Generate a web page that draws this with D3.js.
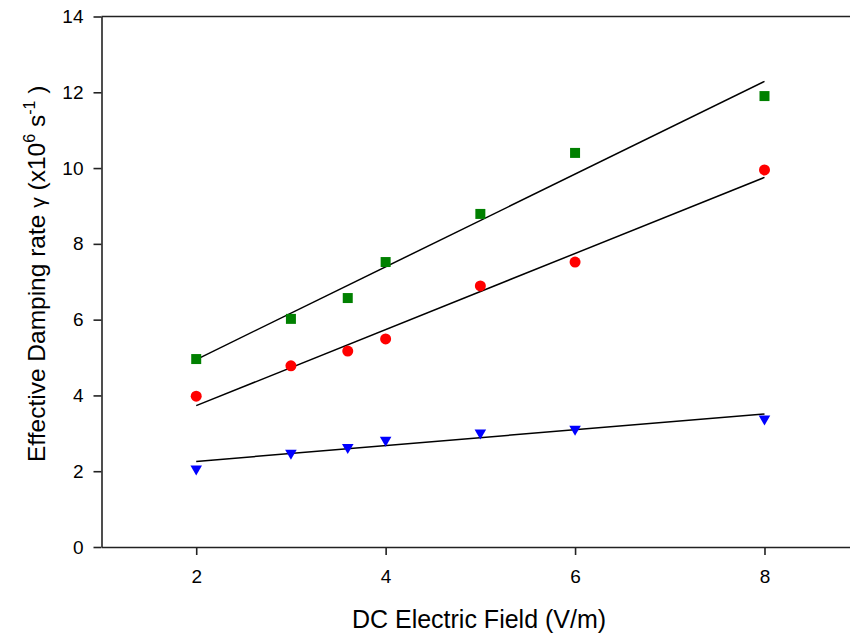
<!DOCTYPE html>
<html>
<head>
<meta charset="utf-8">
<script src="https://cdn.jsdelivr.net/npm/d3@7"></script>
<style>
  body { margin: 0; background: #fff; }
  svg { display: block; font-family: "Liberation Sans", Arial, sans-serif; }
</style>
</head>
<body>
<div class="svg-canvas"></div>
<script>
// Data
var fieldValues = [2, 3, 3.6, 4, 5, 6, 8];
var greenValues = [4.96, 6.02, 6.57, 7.52, 8.79, 10.4, 11.9];
var redValues = [3.98, 4.78, 5.17, 5.49, 6.89, 7.52, 9.95];
var blueValues = [2.06, 2.48, 2.63, 2.82, 3.01, 3.11, 3.38];
var xTicks = [2, 4, 6, 8];
var yTicks = [0, 2, 4, 6, 8, 10, 12, 14];

var ch = {};
ch.width = 850;
ch.height = 639;
ch.margin = {top: 16.5, left: 101.5, bottom: 92};

var svg = d3.select(".svg-canvas").append("svg")
    .attr("width", ch.width)
    .attr("height", ch.height);

var x = d3.scaleLinear().domain([1, 9]).range([ch.margin.left, 859.2]);
var y = d3.scaleLinear().domain([0, 14]).range([ch.height - ch.margin.bottom, ch.margin.top]);

// frame top line
svg.append("line")
    .attr("x1", x(1)).attr("x2", x(9))
    .attr("y1", y(14)).attr("y2", y(14))
    .attr("stroke", "#222").attr("stroke-width", 1.6);

var xAxis = svg.append("g")
    .attr("transform", "translate(0," + y(0) + ")")
    .call(d3.axisBottom(x).tickValues(xTicks).tickSize(8).tickSizeOuter(0).tickPadding(15));

var yAxis = svg.append("g")
    .attr("transform", "translate(" + x(1) + ",0)")
    .call(d3.axisLeft(y).tickValues(yTicks).tickSize(8).tickSizeOuter(0).tickPadding(10));

[xAxis, yAxis].forEach(function(a){
    a.attr("font-size", 19).attr("font-family", "Liberation Sans, Arial, sans-serif");
    a.selectAll("path, line").attr("stroke", "#222").attr("stroke-width", 1.6);
    a.selectAll("text").attr("fill", "#000");
});

// least squares fit
function fit(xs, ys) {
    var mx = d3.mean(xs), my = d3.mean(ys);
    var sxy = d3.sum(xs, function(d, i){ return (d - mx) * (ys[i] - my); });
    var sxx = d3.sum(xs, function(d){ return (d - mx) * (d - mx); });
    var b = sxy / sxx;
    return function(v){ return my + b * (v - mx); };
}

var series = [
    {vals: greenValues, color: "#008000", sym: d3.symbolSquare, size: 100, rot: 0},
    {vals: redValues, color: "#ff0000", sym: d3.symbolCircle, size: 95, rot: 0},
    {vals: blueValues, color: "#0000ff", sym: d3.symbolTriangle, size: 58, rot: 180}
];

var lx = [d3.min(fieldValues), d3.max(fieldValues)];

series.forEach(function(s){
    var f = fit(fieldValues, s.vals);
    svg.append("line")
        .attr("x1", x(lx[0])).attr("y1", y(f(lx[0])))
        .attr("x2", x(lx[1])).attr("y2", y(f(lx[1])))
        .attr("stroke", "#000").attr("stroke-width", 1.5);

    svg.append("g").selectAll("path")
        .data(s.vals)
        .enter()
        .append("path")
        .attr("d", d3.symbol().type(s.sym).size(s.size))
        .attr("transform", function(d, i){
            return "translate(" + x(fieldValues[i]) + "," + y(d) + ") rotate(" + s.rot + ")";
        })
        .attr("fill", s.color);
});

// axis titles
svg.append("text")
    .attr("x", 479).attr("y", 628)
    .attr("text-anchor", "middle")
    .attr("font-size", 25)
    .text("DC Electric Field (V/m)");

var yl = svg.append("text")
    .attr("transform", "translate(44.5,462) rotate(-90)")
    .attr("text-anchor", "start")
    .attr("font-size", 24.5);
yl.append("tspan").text("Effective Damping rate ");
yl.append("tspan").attr("font-size", 21).text("\u03b3");
yl.append("tspan").text(" (x10");
yl.append("tspan").attr("font-size", 16).attr("dy", -10).text("6");
yl.append("tspan").attr("dy", 10).text(" s");
yl.append("tspan").attr("font-size", 16).attr("dy", -10).text("-1");
yl.append("tspan").attr("dy", 10).text(" )");
</script>
</body>
</html>
